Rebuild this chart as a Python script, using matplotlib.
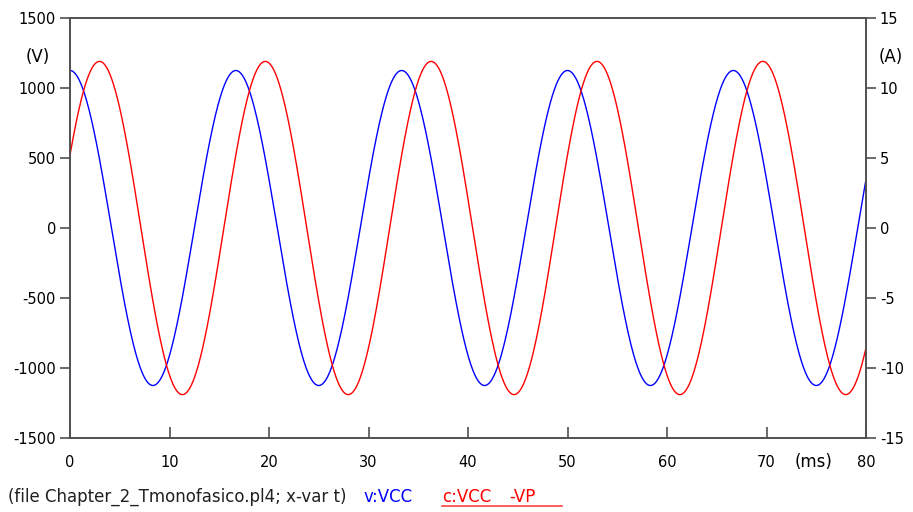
import matplotlib
matplotlib.use('Agg')
import matplotlib.pyplot as plt
from matplotlib.lines import Line2D
import numpy as np

# waveform parameters (60 Hz steady state)
freq_hz = 60.0
v_amp = 1125.0          # V, peak of v:VCC
v_phase_deg = 0.0
i_amp = 11.9            # A, peak of c:VCC-VP
i_phase_deg = -64.0

x_ticks = [0, 10, 20, 30, 40, 50, 60, 70, 80]
x_labels = ['0', '10', '20', '30', '40', '50', '60', '70', '80']
v_ticks = [-1500, -1000, -500, 0, 500, 1000, 1500]
i_ticks = [-15, -10, -5, 0, 5, 10, 15]

t_ms = np.linspace(0, 80, 4001)
w = 2 * np.pi * freq_hz / 1000.0
v = v_amp * np.cos(w * t_ms + np.radians(v_phase_deg))
i = i_amp * np.cos(w * t_ms + np.radians(i_phase_deg))

plt.rcParams['font.family'] = ['DejaVu Sans']
plt.rcParams['axes.unicode_minus'] = False
W, H = 913, 512
fig = plt.figure(figsize=(W / 100, H / 100), dpi=100)
ax = fig.add_axes([70 / W, (H - 438) / H, 796 / W, 420 / H])
ax2 = ax.twinx()

axis_col = '#505050'
fs = 10.5      # tick digits
fs_txt = 12    # word labels

ax.plot(t_ms, v, color='#0000ff', lw=1.0)
ax2.plot(t_ms, i, color='#ff0000', lw=1.0)

ax.set_xlim(0, 80)
ax.set_ylim(-1500, 1500)
ax2.set_ylim(-15, 15)

ax.set_xticks(x_ticks)
ax.set_xticklabels(x_labels)
ax.set_yticks(v_ticks)
ax2.set_yticks(i_ticks)

for a in (ax, ax2):
    for s in a.spines.values():
        s.set_color(axis_col)
        s.set_linewidth(1.2)

ax.tick_params(axis='x', direction='in', length=8, width=1.2, color=axis_col,
               labelsize=fs, pad=12.2, top=False)
ax.tick_params(axis='y', direction='out', length=7, width=1.2, color=axis_col,
               labelsize=fs, pad=3)
ax2.tick_params(axis='y', direction='out', length=7, width=1.2, color=axis_col,
                labelsize=fs, pad=3)

# unit labels
fig.text(38 / W, 1 - 57 / H, '(V)', fontsize=fs_txt, ha='center', va='center')
fig.text(891 / W, 1 - 57 / H, '(A)', fontsize=fs_txt, ha='center', va='center')
fig.text(814 / W, 1 - 462 / H, '(ms)', fontsize=fs_txt, ha='center', va='center')

# footer
fy = 1 - 497 / H
fig.text(8 / W, fy, '(file Chapter_2_Tmonofasico.pl4; x-var t)', fontsize=fs_txt,
         ha='left', va='center', color='#202020')
fig.text(363 / W, fy, 'v:VCC', fontsize=fs_txt, ha='left', va='center', color='#0000ff')
fig.text(442 / W, fy, 'c:VCC', fontsize=fs_txt, ha='left', va='center', color='#ff0000')
fig.text(509 / W, fy, '-VP', fontsize=fs_txt, ha='left', va='center', color='#ff0000')
fig.add_artist(Line2D([442 / W, 562 / W], [1 - 505.5 / H, 1 - 505.5 / H],
                      transform=fig.transFigure, color='#ff4040', lw=1.2))

fig.savefig('out.png', dpi=100)
